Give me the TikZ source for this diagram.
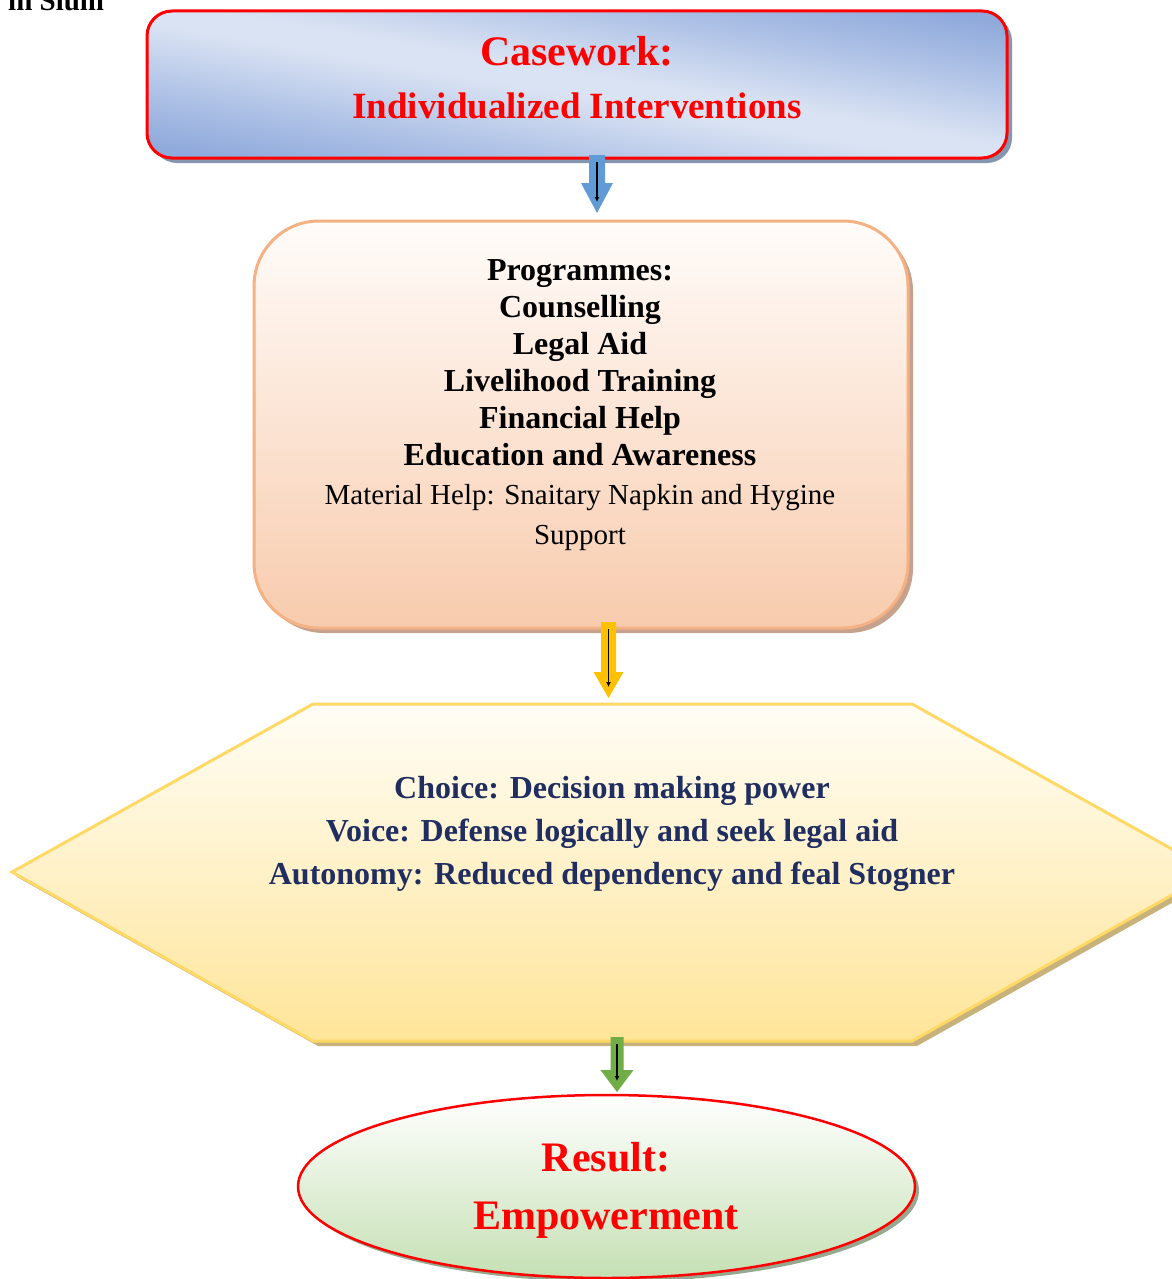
\documentclass[tikz,border=0pt]{standalone}
\usepackage{fontspec}
\setmainfont{Liberation Serif}
\usetikzlibrary{shapes.geometric,arrows.meta,calc,shadows}
\definecolor{blueL}{RGB}{218,227,243}
\definecolor{blueM}{RGB}{180,198,232}
\definecolor{blueD}{RGB}{142,169,219}
\definecolor{blueShadow}{RGB}{132,150,176}
\definecolor{orgBorder}{RGB}{244,177,131}
\definecolor{orgTop}{RGB}{255,252,250}
\definecolor{orgBot}{RGB}{248,203,173}
\definecolor{orgShadow}{RGB}{198,162,142}
\definecolor{yelBorder}{RGB}{255,217,102}
\definecolor{yelTop}{RGB}{255,253,246}
\definecolor{yelBot}{RGB}{255,229,153}
\definecolor{yelShadow}{RGB}{200,178,124}
\definecolor{grnBot}{RGB}{197,224,180}
\definecolor{grnShadow}{RGB}{150,168,142}
\definecolor{navyText}{RGB}{31,45,96}
\definecolor{arrBlue}{RGB}{96,155,213}
\definecolor{arrYel}{RGB}{255,192,0}
\definecolor{arrGrn}{RGB}{112,173,71}
\pgfdeclareverticalshading{blueband}{100bp}{color(0bp)=(blueD); color(27bp)=(blueD); color(38bp)=(blueM); color(48bp)=(blueL); color(52bp)=(blueL); color(62bp)=(blueM); color(73bp)=(blueD); color(100bp)=(blueD)}
\newcommand\blkarrow[6]{%
  \fill[#1] ($(#2)+(-#5,0)$) -- ($(#2)+(#5,0)$) -- ($(#3)+(#5,-#4)$) -- ($(#3)+(#6,-#4)$) -- (#3) -- ($(#3)+(-#6,-#4)$) -- ($(#3)+(-#5,-#4)$) -- cycle;
  \draw[line width=1.8pt,-{Latex[length=5pt,width=5pt]}] ($(#2)+(0,7)$) -- ($(#3)+(0,-11)$);
}
\begin{document}
\begin{tikzpicture}[x=1pt,y=-1pt,
  lbl/.style={inner sep=0pt,anchor=base},
  bigred/.style={lbl,text=red,font=\fontsize{42}{50}\selectfont\bfseries},
  midred/.style={lbl,text=red,font=\fontsize{37}{44}\selectfont\bfseries},
  prog/.style={lbl,font=\fontsize{32}{37}\selectfont\bfseries},
  progreg/.style={lbl,font=\fontsize{29}{34}\selectfont},
  hextxt/.style={lbl,text=navyText,font=\fontsize{32}{37}\selectfont\bfseries}]
\useasboundingbox (0,0) rectangle (1171,1279);
\fill[white] (0,0) rectangle (1171,1279);

\node[lbl,anchor=base west,font=\fontsize{29}{34}\selectfont\bfseries] (slum) at (8,11) {in Slum};

% top box
\node[fill=blueL,rounded corners=25pt,minimum width=860pt,minimum height=147pt,outer sep=0pt,
  drop shadow={shadow xshift=5pt,shadow yshift=-5pt,fill=blueShadow,opacity=1}] (case) at (577,84.5) {};
\begin{scope}
  \clip[rounded corners=25pt] (case.south west) rectangle (case.north east);
  \shade[shading=blueband,transform canvas={shift={(case.center)},rotate=-9.7}] (-520,-145) rectangle (520,145);
\end{scope}
\draw[red,line width=3pt,rounded corners=25pt] (case.south west) rectangle (case.north east);
\node[bigred] (t1) at (577,66) {Casework:};
\node[midred] (t2) at (577,119) {Individualized Interventions};

% programmes box
\node[draw=orgBorder,line width=3pt,rounded corners=65pt,minimum width=654pt,minimum height=407pt,
  top color=orgTop,bottom color=orgBot,middle color=orgTop!50!orgBot,
  drop shadow={shadow xshift=5pt,shadow yshift=-5pt,fill=orgShadow,opacity=1}] (prog) at (581,424.5) {};
\node[prog] (p1) at (580,280) {Programmes:};
\node[prog] (p2) at (580,317) {Counselling};
\node[prog] (p3) at (580,354) {Legal Aid};
\node[prog] (p4) at (580,391) {Livelihood Training};
\node[prog] (p5) at (580,428) {Financial Help};
\node[prog] (p6) at (580,465) {Education and Awareness};
\node[progreg] (p7) at (580,504) {Material Help: Snaitary Napkin and Hygine};
\node[progreg] (p8) at (580,544) {Support};

% hexagon
\coordinate (h1) at (12,872);
\coordinate (h2) at (313,704);
\coordinate (h3) at (912,704);
\coordinate (h4) at (1213,872);
\coordinate (h5) at (912,1041);
\coordinate (h6) at (313,1041);
\fill[yelShadow] ([shift={(5,5)}]h1) -- ([shift={(5,5)}]h2) -- ([shift={(5,5)}]h3) -- ([shift={(5,5)}]h4) -- ([shift={(5,5)}]h5) -- ([shift={(5,5)}]h6) -- cycle;
\path[draw=yelBorder,line width=3pt,top color=yelTop,bottom color=yelBot,line join=miter]
  (h1) -- (h2) -- (h3) -- (h4) -- (h5) -- (h6) -- cycle;
\node[hextxt] (c1) at (612,798) {Choice: Decision making power};
\node[hextxt] (c2) at (612,841) {Voice: Defense logically and seek legal aid};
\node[hextxt] (c3) at (612,884) {Autonomy: Reduced dependency and feal Stogner};

% result ellipse
\node[ellipse,draw=red,line width=2.5pt,minimum width=617pt,minimum height=183pt,inner sep=0pt,
  top color=white,bottom color=grnBot,
  drop shadow={shadow xshift=4pt,shadow yshift=-4pt,fill=grnShadow,opacity=1}] (res) at (606.5,1186.5) {};
\node[bigred] (r1) at (606,1171) {Result:};
\node[bigred] (r2) at (606,1229) {Empowerment};

% block arrows
\coordinate (a1s) at (597,155);
\coordinate (a1e) at (597,213);
\coordinate (a2s) at (608.5,622);
\coordinate (a2e) at (608.5,698);
\coordinate (a3s) at (617,1037);
\coordinate (a3e) at (617,1092);
\blkarrow{arrBlue}{a1s}{a1e}{30}{8}{16}
\blkarrow{arrYel}{a2s}{a2e}{26}{7.5}{15}
\blkarrow{arrGrn}{a3s}{a3e}{22}{6.5}{16.5}
\end{tikzpicture}
\end{document}
